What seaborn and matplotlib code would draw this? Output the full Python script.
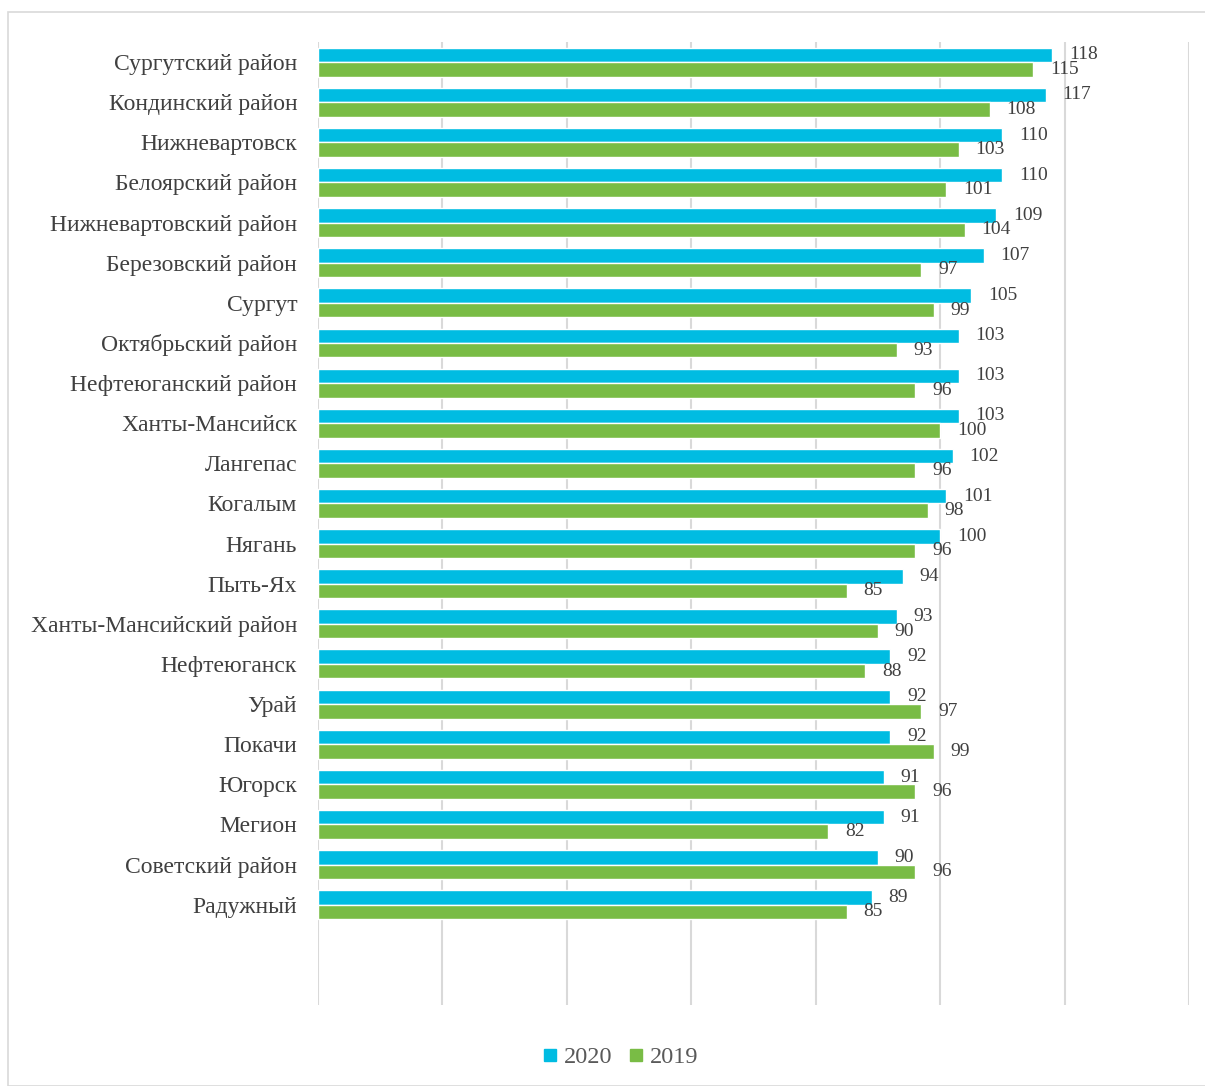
import matplotlib
matplotlib.use("Agg")
import matplotlib.pyplot as plt
import seaborn as sns
import pandas as pd
from matplotlib.patches import Rectangle
from matplotlib.lines import Line2D

sns.set_style("white")
plt.rcParams['font.family'] = ['Liberation Serif', 'DejaVu Serif']

regions = ['Сургутский район', 'Кондинский район', 'Нижневартовск', 'Белоярский район',
           'Нижневартовский район', 'Березовский район', 'Сургут', 'Октябрьский район',
           'Нефтеюганский район', 'Ханты-Мансийск', 'Лангепас', 'Когалым', 'Нягань',
           'Пыть-Ях', 'Ханты-Мансийский район', 'Нефтеюганск', 'Урай', 'Покачи',
           'Югорск', 'Мегион', 'Советский район', 'Радужный']
values_2020 = [118, 117, 110, 110, 109, 107, 105, 103, 103, 103, 102, 101, 100,
               94, 93, 92, 92, 92, 91, 91, 90, 89]
values_2019 = [115, 108, 103, 101, 104, 97, 99, 93, 96, 100, 96, 98, 96,
               85, 90, 88, 97, 99, 96, 82, 96, 85]
years = ['2020', '2019']
colors = {'2020': '#00BCE2', '2019': '#79BC45'}

df = pd.DataFrame({
    'region': regions * 2,
    'value': values_2020 + values_2019,
    'year': ['2020'] * len(regions) + ['2019'] * len(regions),
})

fig = plt.figure(figsize=(12.05, 10.86), dpi=100)
ax = fig.add_axes([0.2639, 0.0746, 0.7228, 0.8867])

sns.barplot(data=df, y='region', x='value', hue='year', hue_order=years,
            order=regions, palette=colors, saturation=1, orient='h', width=0.72,
            edgecolor='white', linewidth=1, legend=False, ax=ax)

# value labels
for cont in ax.containers:
    labels = [str(int(b.get_width())) for b in cont]
    ax.bar_label(cont, labels=labels, padding=12, fontsize=14, color='#404040')

ax.set_xlim(0, 140)
ax.set_ylim(23.5, -0.5)
ax.set_xticks(range(0, 141, 20))
ax.set_xticklabels([])
ax.tick_params(axis='x', length=0)
ax.tick_params(axis='y', length=0, labelsize=17, labelcolor='#404040', pad=15)
ax.grid(True, axis='x', color='#D9D9D9', linewidth=1.5)
ax.set_axisbelow(True)
for s in ax.spines.values():
    s.set_visible(False)
ax.set_xlabel('')
ax.set_ylabel('')

# outer frame
fig.patches.append(Rectangle((8 / 1205, 0), 1.0, 1 - 12 / 1086, transform=fig.transFigure,
                             fill=False, edgecolor='#D9D9D9', linewidth=1.2))

handles = [Line2D([], [], marker='s', linestyle='', markersize=8.5,
                  markerfacecolor=colors[y], markeredgecolor=colors[y]) for y in years]
fig.legend(handles, years, loc='center', bbox_to_anchor=(0.514, 1 - 1057 / 1086),
           ncol=2, frameon=False, fontsize=17.5, handlelength=0.8, handletextpad=0.15,
           columnspacing=0.6, labelcolor='#595959')

plt.savefig('out.png', dpi=100)
